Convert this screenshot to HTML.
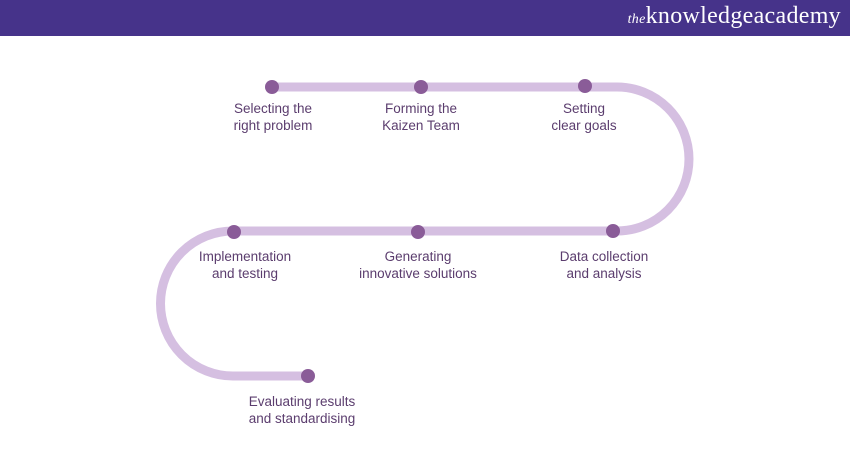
<!DOCTYPE html>
<html><head><style>
body{margin:0;width:850px;height:450px;background:#fff;overflow:hidden;position:relative;font-family:"Liberation Sans",sans-serif}
.hdr{position:absolute;left:0;top:0;width:850px;height:36px;background:#46338a}
.logo{position:absolute;right:9px;top:3px;color:#fff;font-family:"Liberation Serif",serif;font-size:24px;letter-spacing:0.3px}
.logo i{font-size:14px}
.l{position:absolute;width:180px;margin-left:-90px;text-align:center;color:#5b3d6e;font-size:13.5px;line-height:17px}
</style></head><body>
<div class="hdr"><div class="logo"><i>the</i>knowledge<b style="font-weight:normal">academy</b></div></div>
<svg width="850" height="450" style="position:absolute;left:0;top:0">
<path d="M272 87 H617 A72 72 0 0 1 617 231 H233 A72.5 72.5 0 0 0 233 376 H308" fill="none" stroke="#d5bfe1" stroke-width="9"/>
<g fill="#8a5c98">
<circle cx="272" cy="87" r="7"/><circle cx="421" cy="87" r="7"/><circle cx="585" cy="86" r="7"/>
<circle cx="613" cy="231" r="7"/><circle cx="418" cy="232" r="7"/><circle cx="234" cy="232" r="7"/>
<circle cx="308" cy="376" r="7"/></g>
</svg>
<div class="l" style="left:273px;top:100px">Selecting the<br>right problem</div>
<div class="l" style="left:421px;top:100px">Forming the<br>Kaizen Team</div>
<div class="l" style="left:584px;top:100px">Setting<br>clear goals</div>
<div class="l" style="left:245px;top:248px">Implementation<br>and testing</div>
<div class="l" style="left:418px;top:248px">Generating<br>innovative solutions</div>
<div class="l" style="left:604px;top:248px">Data collection<br>and analysis</div>
<div class="l" style="left:302px;top:393px">Evaluating results<br>and standardising</div>
</body></html>
